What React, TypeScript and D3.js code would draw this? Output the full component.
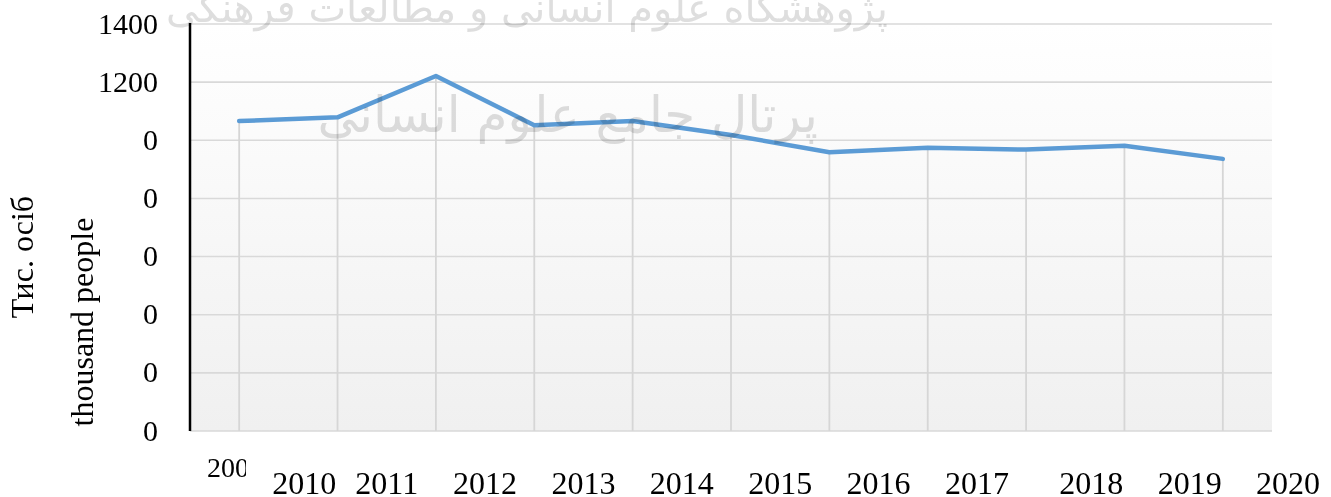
import React from 'react';
import * as d3 from 'd3';

// values (thousand people)
const years = ['2009', '2010', '2011', '2012', '2013', '2014', '2015', '2016', '2017', '2018', '2019'];
const people = [1066, 1079, 1221, 1052, 1066, 1018, 959, 974, 968, 981, 936];

const yTicks = [0, 200, 400, 600, 800, 1000, 1200, 1400];
const yTickLabels = ['0', '0', '0', '0', '0', '0', '1200', '1400'];
const xLabels = ['2010', '2011', '2012', '2013', '2014', '2015', '2016', '2017', '2018', '2019', '2020'];

const W = 1331;
const H = 497;
const left = 190;
const right = 1272;
const top = 24;
const bottom = 431;

export default function App() {
  const x = d3.scaleBand().domain(years).range([left, right]);
  const y = d3.scaleLinear().domain([0, 1400]).range([bottom, top]);
  const cx = (d: string) => (x(d) as number) + x.bandwidth() / 2;

  const line = d3
    .line<number>()
    .x((_, i) => cx(years[i]))
    .y((d) => y(d));

  // the year labels sit on the band boundaries, last one past the plot end
  const labelX = (i: number) => (i < years.length - 1 ? (x(years[i + 1]) as number) : right) + (i === 0 || i >= 8 ? 16 : 0);

  const serif = '"Liberation Serif", "Times New Roman", serif';

  return (
    <svg width={W} height={H} style={{ position: 'absolute', left: 0, top: 0, background: '#fff' }}>
      <defs>
        <linearGradient id="plotBg" x1="0" y1="0" x2="0" y2="1">
          <stop offset="0" stopColor="#ffffff" />
          <stop offset="1" stopColor="#f0f0f0" />
        </linearGradient>
        <clipPath id="cut2009">
          <rect x={0} y={0} width={246} height={H} />
        </clipPath>
      </defs>

      <rect x={left} y={top} width={right - left} height={bottom - top} fill="url(#plotBg)" />

      {yTicks.map((t) => (
        <line key={t} x1={left} x2={right} y1={y(t)} y2={y(t)} stroke="#d9d9d9" strokeWidth={1.6} />
      ))}

      {people.map((v, i) => (
        <line key={years[i]} x1={cx(years[i])} x2={cx(years[i])} y1={y(v)} y2={bottom} stroke="#d6d6d6" strokeWidth={1.8} />
      ))}

      <path d={line(people) || ''} fill="none" stroke="#5b9bd5" strokeWidth={4.5} strokeLinejoin="round" strokeLinecap="round" />

      {/* faint watermark over the plot */}
      <g fontFamily='"DejaVu Sans", sans-serif' fill="#c8c8c8" opacity={0.6} style={{ mixBlendMode: 'multiply' }} direction="rtl">
        <text x={888} y={22} fontSize={40} textAnchor="start">پژوهشگاه علوم انسانی و مطالعات فرهنگی</text>
        <text x={818} y={132} fontSize={50} textAnchor="start">پرتال جامع علوم انسانی</text>
      </g>

      <line x1={left} x2={left} y1={top - 1} y2={bottom} stroke="#000" strokeWidth={2.5} />

      {yTicks.map((t, i) => (
        <text key={t} x={158} y={y(t) + 9.5} textAnchor="end" fontFamily={serif} fontSize={30} fill="#000">
          {yTickLabels[i]}
        </text>
      ))}

      <text x={207} y={477} fontFamily={serif} fontSize={28} fill="#000" clipPath="url(#cut2009)">
        2009
      </text>
      {xLabels.map((l, i) => (
        <text key={l} x={labelX(i)} y={494} textAnchor="middle" fontFamily={serif} fontSize={32} fill="#000">
          {l}
        </text>
      ))}

      <text transform="translate(33,257) rotate(-90)" textAnchor="middle" fontFamily={serif} fontSize={32} fill="#000">
        Тис. осіб
      </text>
      <text transform="translate(93,322) rotate(-90)" textAnchor="middle" fontFamily={serif} fontSize={32} fill="#000">
        thousand people
      </text>
    </svg>
  );
}
